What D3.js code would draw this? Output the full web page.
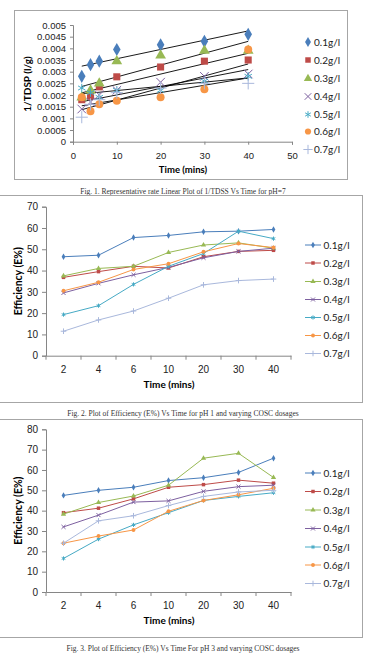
<!DOCTYPE html>
<html>
<head>
<meta charset="utf-8">
<script src="https://cdn.jsdelivr.net/npm/d3@7"></script>
<style>
  body { margin: 0; background: #fff; }
  svg { display: block; font-family: Lato, "Open Sans", sans-serif; }
  .caption { font-family: "Liberation Serif", serif; font-size: 7.5px; fill: #333; }
  .tick text { fill: #222; }
</style>
</head>
<body>
<svg id="chart" width="365" height="658"></svg>
<script>
// shared categories
var times = [2, 4, 6, 10, 20, 30, 40];
var dosages = ["0.1g/l", "0.2g/l", "0.3g/l", "0.4g/l", "0.5g/l", "0.6g/l", "0.7g/l"];
var colors = ["#4a7ebb", "#be4b48", "#98b954", "#7d60a0", "#46aac5", "#f79646", "#a9b8dc"];

// Fig 1: 1/TDSP (l/g) per dosage
var fig1Series = [
  [0.0028, 0.0033, 0.00345, 0.00395, 0.00415, 0.0043, 0.0046],
  [0.0018, 0.00195, 0.00235, 0.00278, 0.0032, 0.00345, 0.0035],
  [0.0019, 0.0022, 0.0025, 0.00345, 0.0037, 0.0039, 0.0039],
  [0.0014, 0.0017, 0.002, 0.0022, 0.00255, 0.0028, 0.0029],
  [0.0023, 0.0021, 0.0019, 0.0022, 0.0022, 0.0026, 0.0028],
  [0.0019, 0.0013, 0.0016, 0.00175, 0.0019, 0.00225, 0.00395],
  [0.00105, 0.0016, 0.0018, 0.0021, 0.0023, 0.0025, 0.0025]
];
var fig1YTicks = [0, 0.0005, 0.001, 0.0015, 0.002, 0.0025, 0.003, 0.0035, 0.004, 0.0045, 0.005];
var fig1XTicks = [0, 10, 20, 30, 40, 50];

// Fig 2: efficiency (E%) pH 1
var fig2Series = [
  [46.5, 47.2, 55.5, 56.5, 58.2, 58.5, 59.3],
  [36.8, 39.5, 42, 41.2, 46.5, 49, 49.5],
  [37.5, 41, 42, 48.5, 52, 53, 50.5],
  [29.5, 34, 38, 41.5, 46, 49, 50.5],
  [19.3, 23.5, 33.5, 42, 48, 58.5, 55],
  [30.5, 34.5, 40.5, 43.2, 48.8, 52.7, 50.8],
  [11.5, 16.8, 21, 27, 33.3, 35.3, 36]
];
var fig2YTicks = [0, 10, 20, 30, 40, 50, 60, 70];

// Fig 3: efficiency (E%) pH 3
var fig3Series = [
  [47.5, 50, 51.5, 54.8, 56.2, 58.8, 65.8],
  [39, 41.2, 45.8, 51.5, 52.8, 55, 53.5],
  [38.3, 44, 47.2, 52.5, 65.8, 68.2, 56.3],
  [32, 37.8, 44.2, 44.8, 49.5, 51.8, 52.5],
  [16.5, 26, 33, 39, 45, 47, 48.8],
  [24, 27.5, 30.5, 39.7, 45, 47.8, 51],
  [24, 35, 37.5, 42.5, 47, 49.2, 50]
];
var fig3YTicks = [0, 10, 20, 30, 40, 50, 60, 70, 80];

var symbols = [d3.symbolDiamond, d3.symbolSquare, d3.symbolTriangle, d3.symbolTimes,
               d3.symbolAsterisk, d3.symbolCircle, d3.symbolPlus];
var stroked = [false, false, false, true, true, false, true];

var svg = d3.select("#chart");

function styleAxis(g) {
  g.select(".domain").attr("stroke", "#868686");
  g.selectAll(".tick line").attr("stroke", "#868686");
  g.selectAll(".tick text").attr("font-size", 9.5);
}

function marker(sel, i, size) {
  var p = sel.attr("d", d3.symbol().type(symbols[i]).size(size));
  if (stroked[i]) p.attr("fill", "none").attr("stroke", colors[i]).attr("stroke-width", 1);
  else p.attr("fill", colors[i]);
  return p;
}

// ---------- Fig 1 ----------
svg.append("rect").attr("x", 14.5).attr("y", 10.5).attr("width", 333).attr("height", 169)
  .attr("fill", "none").attr("stroke", "#a6a6a6");

var x1 = d3.scaleLinear().domain([0, 50]).range([73, 292]);
var y1 = d3.scaleLinear().domain([0, 0.005]).range([141.7, 25]);

svg.append("g").attr("transform", "translate(0,141.7)")
  .call(d3.axisBottom(x1).tickValues(fig1XTicks).tickSize(3).tickPadding(8))
  .call(styleAxis);
svg.append("g").attr("transform", "translate(73,0)")
  .call(d3.axisLeft(y1).tickValues(fig1YTicks).tickSize(3).tickPadding(4)
    .tickFormat(function(d) { return String(+d.toFixed(4)); }))
  .call(styleAxis);

svg.append("text").attr("transform", "translate(31,84) rotate(-90)")
  .attr("text-anchor", "middle").attr("font-size", 10).attr("font-weight", "bold")
  .text("1/TDSP  (l/g)");
svg.append("text").attr("x", 183).attr("y", 173).attr("text-anchor", "middle")
  .attr("font-size", 9.5).attr("font-weight", "bold").text("Time  (mins)");

// trendlines (least squares per series)
fig1Series.forEach(function(vals, i) {
  var mx = d3.mean(times), my = d3.mean(vals);
  var sxy = d3.sum(times, function(t, k) { return (t - mx) * (vals[k] - my); });
  var sxx = d3.sum(times, function(t) { return (t - mx) * (t - mx); });
  var b = sxy / sxx, a = my - b * mx;
  svg.append("line")
    .attr("x1", x1(2)).attr("y1", y1(a + b * 2))
    .attr("x2", x1(40)).attr("y2", y1(a + b * 40))
    .attr("stroke", "#000").attr("stroke-width", 0.9);
});

fig1Series.forEach(function(vals, i) {
  svg.append("g").selectAll("path").data(vals).join("path")
    .attr("transform", function(d, k) { return "translate(" + x1(times[k]) + "," + y1(d) + ")"; })
    .call(function(s) { marker(s, i, 50); });
});

var leg1Y = [42, 60, 78.5, 96.5, 114.5, 131.5, 149.5];
dosages.forEach(function(name, i) {
  svg.append("path").attr("transform", "translate(308," + leg1Y[i] + ")")
    .call(function(s) { marker(s, i, 30); });
  svg.append("text").attr("x", 314).attr("y", leg1Y[i] + 3.5).attr("font-size", 10)
    .attr("fill", "#222").text(name);
});

svg.append("text").attr("class", "caption").attr("x", 183).attr("y", 194)
  .attr("text-anchor", "middle")
  .text("Fig. 1. Representative rate Linear Plot of 1/TDSS Vs Time for pH=7");

// ---------- line panels (Fig 2, Fig 3) ----------
function linePanel(series, yTicks, box, yTop, yBottom, legY, captionY, caption) {
  svg.append("rect").attr("x", -1).attr("y", box[0]).attr("width", 363.5).attr("height", box[1] - box[0])
    .attr("fill", "none").attr("stroke", "#a6a6a6");

  var x = d3.scaleBand().domain(times.map(String)).range([46, 291]);
  var y = d3.scaleLinear().domain([0, d3.max(yTicks)]).range([yBottom, yTop]);
  var cx = function(k) { return x(String(times[k])) + x.bandwidth() / 2; };

  svg.append("g").attr("transform", "translate(0," + yBottom + ")")
    .call(d3.axisBottom(x).tickSize(0).tickPadding(10))
    .call(styleAxis)
    .call(function(g) { g.selectAll(".tick text").attr("font-size", 10); });
  // tick marks on category boundaries
  svg.append("g").selectAll("line").data(times.concat(["end"])).join("line")
    .attr("x1", function(d, k) { return x.range()[0] + k * x.step(); })
    .attr("x2", function(d, k) { return x.range()[0] + k * x.step(); })
    .attr("y1", yBottom).attr("y2", yBottom + 4).attr("stroke", "#868686");

  svg.append("g").attr("transform", "translate(46,0)")
    .call(d3.axisLeft(y).tickValues(yTicks).tickSize(4).tickPadding(4))
    .call(styleAxis)
    .call(function(g) { g.selectAll(".tick text").attr("font-size", 10); });

  svg.append("text").attr("transform", "translate(22," + (yTop + yBottom) / 2 + ") rotate(-90)")
    .attr("text-anchor", "middle").attr("font-size", 10.5).attr("font-weight", "bold")
    .text("Efficiency  (E%)");
  svg.append("text").attr("x", 169).attr("y", yBottom + 32).attr("text-anchor", "middle")
    .attr("font-size", 10).attr("font-weight", "bold").text("Time (mins)");

  var line = d3.line().x(function(d, k) { return cx(k); }).y(function(d) { return y(d); });
  series.forEach(function(vals, i) {
    svg.append("path").datum(vals).attr("d", line)
      .attr("fill", "none").attr("stroke", colors[i]).attr("stroke-width", 1);
    svg.append("g").selectAll("path").data(vals).join("path")
      .attr("transform", function(d, k) { return "translate(" + cx(k) + "," + y(d) + ")"; })
      .call(function(s) { marker(s, i, 12); });
  });

  dosages.forEach(function(name, i) {
    svg.append("line").attr("x1", 305).attr("x2", 321).attr("y1", legY[i]).attr("y2", legY[i])
      .attr("stroke", colors[i]).attr("stroke-width", 1);
    svg.append("path").attr("transform", "translate(313," + legY[i] + ")")
      .call(function(s) { marker(s, i, 12); });
    svg.append("text").attr("x", 323.5).attr("y", legY[i] + 3.5).attr("font-size", 10)
      .attr("fill", "#222").text(name);
  });

  svg.append("text").attr("class", "caption").attr("x", 183).attr("y", captionY)
    .attr("text-anchor", "middle").text(caption);
}

linePanel(fig2Series, fig2YTicks, [195.5, 402.5], 206.7, 355.7,
  [245, 263, 281.5, 299.5, 317.5, 335.5, 353.5], 416,
  "Fig. 2. Plot of Efficiency (E%) Vs Time for pH 1 and varying COSC dosages");

linePanel(fig3Series, fig3YTicks, [419.5, 637.5], 429.3, 592,
  [473, 491.5, 510, 528.5, 547, 565, 583.5], 651,
  "Fig. 3. Plot of Efficiency (E%) Vs Time For pH 3 and varying COSC dosages");
</script>
</body>
</html>
